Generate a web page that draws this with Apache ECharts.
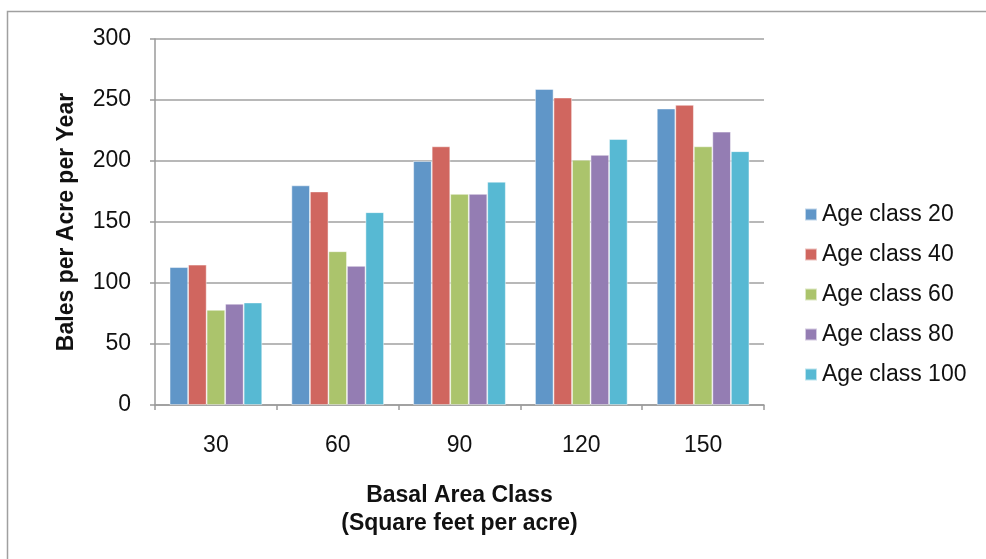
<!DOCTYPE html>
<html>
<head>
<meta charset="utf-8">
<script src="https://cdn.jsdelivr.net/npm/echarts@6/dist/echarts.min.js"></script>
<style>html,body{margin:0;padding:0;background:#fff;}#c{width:986px;height:559px;}</style>
</head>
<body>
<div id="c"></div>
<script>
const categories = ['30', '60', '90', '120', '150'];
const seriesNames = ['Age class 20', 'Age class 40', 'Age class 60', 'Age class 80', 'Age class 100'];
const age20 = [113, 180, 200, 259, 243];
const age40 = [115, 175, 212, 252, 246];
const age60 = [78, 126, 173, 201, 212];
const age80 = [83, 114, 173, 205, 224];
const age100 = [84, 158, 183, 218, 208];
const yTicks = [0, 50, 100, 150, 200, 250, 300];

const colors = ['#6096C8', '#D0665F', '#ABC46C', '#947DB3', '#57B9D3'];
const allData = [age20, age40, age60, age80, age100];
const font = '"Liberation Sans", Arial, Helvetica, sans-serif';

const chart = echarts.init(document.getElementById('c'));
chart.setOption({
  animation: false,
  color: colors,
  graphic: [{
    type: 'rect', left: 5, top: 9, z: -1,
    shape: { x: 0, y: 0, width: 1000, height: 600 },
    style: { fill: 'none', stroke: '#a0a0a0', lineWidth: 1.5 }
  }],
  grid: { left: 155, right: 222, top: 39, bottom: 154 },
  legend: {
    orient: 'vertical', left: 804, top: 203,
    itemWidth: 12, itemHeight: 12, itemGap: 17,
    icon: 'rect',
    padding: 0,
    textStyle: { fontFamily: font, fontSize: 23, color: '#111' },
    data: seriesNames
  },
  xAxis: {
    type: 'category', data: categories,
    name: 'Basal Area Class\n(Square feet per acre)',
    nameLocation: 'middle', nameGap: 77,
    nameTextStyle: { fontFamily: font, fontSize: 23, fontWeight: 'bold', color: '#111', lineHeight: 28 },
    axisLine: { lineStyle: { color: '#9a9a9a', width: 1.5 } },
    axisTick: { show: true, length: 5, lineStyle: { color: '#9a9a9a', width: 1.5 } },
    axisLabel: { fontFamily: font, fontSize: 23, color: '#111', margin: 29 }
  },
  yAxis: {
    type: 'value', min: 0, max: 300, interval: 50,
    name: 'Bales per Acre per Year',
    nameLocation: 'middle', nameGap: 77, nameRotate: 90,
    nameTextStyle: { fontFamily: font, fontSize: 23, fontWeight: 'bold', color: '#111' },
    axisLine: { show: true, lineStyle: { color: '#9a9a9a', width: 1.5 } },
    axisTick: { show: true, length: 5, lineStyle: { color: '#9a9a9a', width: 1.5 } },
    axisLabel: { fontFamily: font, fontSize: 23, color: '#111', margin: 24,
      formatter: v => yTicks.includes(v) ? String(v) : '' },
    splitLine: { lineStyle: { color: '#a0a0a0', width: 1.5 } }
  },
  series: seriesNames.map((n, i) => ({
    name: n, type: 'bar', data: allData[i],
    barGap: '0%', barCategoryGap: '24%',
    itemStyle: { color: colors[i], borderColor: 'rgba(255,255,255,0.6)', borderWidth: 0.8 }
  }))
});
</script>
</body>
</html>
